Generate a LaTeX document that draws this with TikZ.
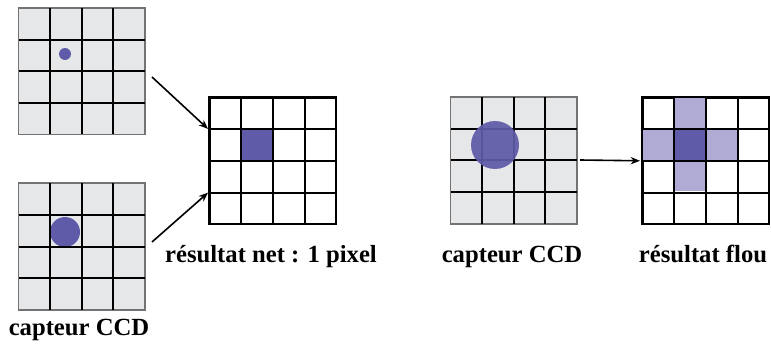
\documentclass[tikz,border=0pt]{standalone}
\usepackage{fontspec}
\setmainfont{Liberation Serif}
\usetikzlibrary{calc,arrows.meta}

\definecolor{sensorgray}{HTML}{E6E7E8}
\definecolor{spotpurple}{HTML}{5F5BA8}
\definecolor{halopurple}{HTML}{AFABD4}

\tikzset{
  sensor/.style={rectangle, draw=black!55, line width=0.75pt, fill=sensorgray,
                 minimum size=94.5pt, inner sep=0pt, anchor=north west},
  result/.style={rectangle, draw=black, line width=1.2pt, fill=white,
                 minimum size=94.5pt, inner sep=0pt, anchor=north west},
  gridline/.style={draw=black, line width=1.5pt},
  link/.style={draw=black, line width=1.2pt, -{Stealth[length=7pt,width=5.5pt]}},
  caption/.style={font=\bfseries\fontsize{18.5}{22}\selectfont, anchor=base, inner sep=0pt},
}

% inner 4x4 lines of a square node
\newcommand\cellgrid[1]{%
  \foreach \k in {1,2,3} {
    \draw[gridline] ($(#1.north west)!\k/4!(#1.north east)$) -- ($(#1.south west)!\k/4!(#1.south east)$);
    \draw[gridline] ($(#1.north west)!\k/4!(#1.south west)$) -- ($(#1.north east)!\k/4!(#1.south east)$);
  }%
}
% fill cell (column #2, row #3) of node #1
\newcommand\paintcell[4]{%
  \fill[#4] ($(#1.north west)+(#2*31.5,#3*31.5)$) rectangle ++(31.5,31.5);%
}

\begin{document}
\begin{tikzpicture}[x=0.75pt,y=-0.75pt]
\useasboundingbox (0,0) rectangle (771,349);

% sensors and results
\node[sensor] (g1) at (18,8) {};
\node[sensor] (g2) at (18,183) {};
\node[result] (g3) at (209,97) {};
\node[sensor] (g4) at (450,97) {};
\node[result] (g5) at (642,97) {};

% light spots on the sensors
\node[circle, fill=spotpurple, minimum size=9pt, inner sep=0pt] (s1) at (65,54) {};
\node[circle, fill=spotpurple, minimum size=22.5pt, inner sep=0pt] (s2) at (65,232) {};

% sharp result
\paintcell{g3}{1}{1}{spotpurple}

% blurred result
\paintcell{g5}{1}{0}{halopurple}
\paintcell{g5}{0}{1}{halopurple}
\paintcell{g5}{2}{1}{halopurple}
\paintcell{g5}{1}{2}{halopurple}
\paintcell{g5}{1}{1}{spotpurple}

\cellgrid{g1}
\cellgrid{g2}
\cellgrid{g3}
\cellgrid{g4}
\cellgrid{g5}

% large spot over the lines
\node[circle, fill=spotpurple, fill opacity=0.93, minimum size=36pt, inner sep=0pt] (s4) at (495,145) {};

% borders on top
\draw[black!55, line width=0.75pt] (g1.north west) rectangle (g1.south east);
\draw[black!55, line width=0.75pt] (g2.north west) rectangle (g2.south east);
\draw[black!55, line width=0.75pt] (g4.north west) rectangle (g4.south east);
\draw[black, line width=1.3pt] (g3.north west) rectangle (g3.south east);
\draw[black, line width=1.3pt] (g5.north west) rectangle (g5.south east);

% arrows
\coordinate (a1) at (152,77);
\coordinate (a2) at (152,242);
\coordinate (a3) at (580,160);
\draw[link] (a1) -- ($(g3.north west)!0.25!(g3.south west)+(-1,0)$);
\draw[link] (a2) -- ($(g3.north west)!0.75!(g3.south west)+(-1,0)$);
\draw[link] (a3) -- ($(g5.west)+(-2,0)$);

% captions
\node[caption] (t2) at (79,335) {capteur CCD};
\node[caption] (t3) at (271,262) {résultat net : 1 pixel};
\node[caption] (t4) at (512,262) {capteur CCD};
\node[caption] (t5) at (703,262) {résultat flou};
\end{tikzpicture}
\end{document}
